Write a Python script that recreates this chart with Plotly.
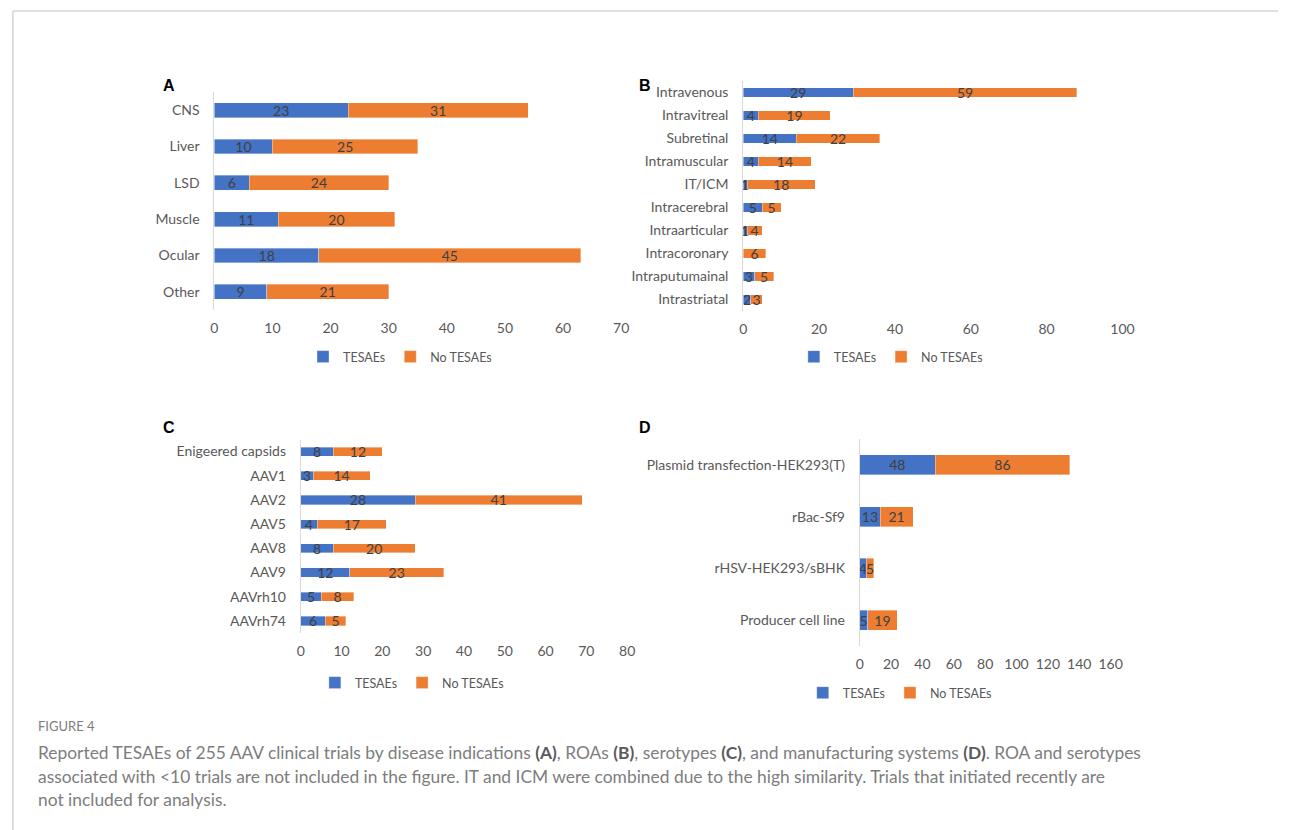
import plotly.graph_objects as go

W, H = 1290, 830

# ---- data -------------------------------------------------------------
# (A) disease indications
indications = ["CNS", "Liver", "LSD", "Muscle", "Ocular", "Other"]
ind_tesaes = [23, 10, 6, 11, 18, 9]
ind_no_tesaes = [31, 25, 24, 20, 45, 21]

# (B) routes of administration
routes = ["Intravenous", "Intravitreal", "Subretinal", "Intramuscular", "IT/ICM",
          "Intracerebral", "Intraarticular", "Intracoronary", "Intraputumainal",
          "Intrastriatal"]
route_tesaes = [29, 4, 14, 4, 1, 5, 1, 0, 3, 2]
route_no_tesaes = [59, 19, 22, 14, 18, 5, 4, 6, 5, 3]

# (C) serotypes
serotypes = ["Enigeered capsids", "AAV1", "AAV2", "AAV5", "AAV8", "AAV9",
             "AAVrh10", "AAVrh74"]
sero_tesaes = [8, 3, 28, 4, 8, 12, 5, 6]
sero_no_tesaes = [12, 14, 41, 17, 20, 23, 8, 5]

# (D) manufacturing systems
systems = ["Plasmid transfection-HEK293(T)", "rBac-Sf9", "rHSV-HEK293/sBHK",
           "Producer cell line"]
sys_tesaes = [48, 13, 4, 5]
sys_no_tesaes = [86, 21, 5, 19]

# x-axis tick values for each panel
ticks_a = [0, 10, 20, 30, 40, 50, 60, 70]
ticks_b = [0, 20, 40, 60, 80, 100]
ticks_c = [0, 10, 20, 30, 40, 50, 60, 70, 80]
ticks_d = [0, 20, 40, 60, 80, 100, 120, 140, 160]

series_names = ["TESAEs", "No TESAEs"]

# ---- styling ----------------------------------------------------------
BLUE = "#4472C4"
ORANGE = "#ED7D31"
TICK_GREY = "#595959"
LABEL_GREY = "#404040"
FONT = "Lato"
TXT = 14


def fx(px):
    return px / W


def fy(py):
    return 1 - py / H


panels = [
    dict(letter="A", cats=indications, s1=ind_tesaes, s2=ind_no_tesaes, ticks=ticks_a,
         xpx=(213, 625), ypx=(92, 310), bw=0.41, leg=(401, 357), lpos=(167, 86)),
    dict(letter="B", cats=routes, s1=route_tesaes, s2=route_no_tesaes, ticks=ticks_b,
         xpx=(748.5, 1132.5), ypx=(81, 311), bw=0.40, leg=(898, 357), lpos=(649, 86)),
    dict(letter="C", cats=serotypes, s1=sero_tesaes, s2=sero_no_tesaes, ticks=ticks_c,
         xpx=(300.5, 631), ypx=(439.5, 633), bw=0.38, leg=(413, 683), lpos=(167, 427)),
    dict(letter="D", cats=systems, s1=sys_tesaes, s2=sys_no_tesaes, ticks=ticks_d,
         xpx=(866.5, 1120.5), ypx=(439, 646), bw=0.39, leg=(907, 693), lpos=(649, 427)),
]

fig = go.Figure()
layout = dict(
    width=W, height=H, autosize=False,
    margin=dict(l=0, r=0, t=0, b=0),
    paper_bgcolor="white", plot_bgcolor="white",
    barmode="stack", showlegend=True,
    font=dict(family=FONT, color=TICK_GREY, size=TXT),
)
annotations = []

for i, p in enumerate(panels):
    n = i + 1
    sfx = "" if n == 1 else str(n)
    xa, ya = "x" + sfx, "y" + sfx
    leg = "legend" + sfx
    for vals, color, name in ((p["s1"], BLUE, series_names[0]),
                              (p["s2"], ORANGE, series_names[1])):
        fig.add_trace(go.Bar(
            y=p["cats"], x=vals, orientation="h", name=name,
            marker=dict(color=color, line=dict(color="rgba(255,255,255,0.6)", width=0.6)),
            width=p["bw"],
            text=[str(v) if v else "" for v in vals],
            textposition="inside", insidetextanchor="middle", textangle=0,
            constraintext="none",
            textfont=dict(color=LABEL_GREY, size=TXT, family=FONT),
            xaxis=xa, yaxis=ya, legend=leg, hoverinfo="x+y",
        ))
    nc = len(p["cats"])
    layout["xaxis" + sfx] = dict(
        domain=[fx(p["xpx"][0]), fx(p["xpx"][1])], anchor=ya,
        range=[0, p["ticks"][-1]], tickmode="array", tickvals=p["ticks"],
        showgrid=False, zeroline=False, showline=False, ticks="",
        ticklabelstandoff=8, tickfont=dict(size=TXT, color=TICK_GREY, family=FONT),
        fixedrange=True,
    )
    layout["yaxis" + sfx] = dict(
        domain=[fy(p["ypx"][1]), fy(p["ypx"][0])], anchor=xa,
        type="category", range=[nc - 0.5, -0.5],
        showgrid=False, zeroline=False, showline=True, linecolor="#D9D9D9", linewidth=1,
        ticks="", ticklabelstandoff=11,
        tickfont=dict(size=TXT, color=TICK_GREY, family=FONT), fixedrange=True,
    )
    layout[leg] = dict(
        x=fx(p["leg"][0]), y=fy(p["leg"][1]), xanchor="center", yanchor="middle",
        orientation="h", bgcolor="rgba(0,0,0,0)", traceorder="normal",
        font=dict(size=12.5, color=TICK_GREY, family=FONT), itemwidth=30,
    )
    annotations.append(dict(
        text="<b>%s</b>" % p["letter"], xref="paper", yref="paper",
        x=fx(p["lpos"][0]), y=fy(p["lpos"][1]), xanchor="center", yanchor="middle",
        showarrow=False, font=dict(family="Liberation Sans, Arial", size=16, color="black"),
    ))

# figure caption
CAP_GREY = "#7d7d7d"
REF = "<b><span style='color:#5a5a5a'>(%s)</span></b>"
caption_lines = [
    ("FIGURE 4", 726, 13),
    ("Reported TESAEs of 255 AAV clinical trials by disease indications " + REF % "A" +
     ", ROAs " + REF % "B" + ", serotypes " + REF % "C" +
     ", and manufacturing systems " + REF % "D" + ". ROA and serotypes", 752, 17.4),
    ("associated with &lt;10 trials are not included in the figure. IT and ICM were "
     "combined due to the high similarity. Trials that initiated recently are", 776, 17.4),
    ("not included for analysis.", 799, 17.4),
]
for txt, ypx, size in caption_lines:
    annotations.append(dict(
        text=txt, xref="paper", yref="paper", x=fx(32), y=fy(ypx),
        xanchor="left", yanchor="middle", showarrow=False, align="left",
        font=dict(family=FONT, size=size, color=CAP_GREY),
    ))
layout["annotations"] = annotations

# page frame: top rule and left rule
layout["shapes"] = [
    dict(type="line", xref="paper", yref="paper", x0=fx(9), x1=1, y0=fy(11), y1=fy(11),
         line=dict(color="#D4D4D4", width=1.5)),
    dict(type="line", xref="paper", yref="paper", x0=fx(9), x1=fx(9), y0=fy(11), y1=0,
         line=dict(color="#D4D4D4", width=1.5)),
]

fig.update_layout(**layout)
fig.write_html("out.html")
